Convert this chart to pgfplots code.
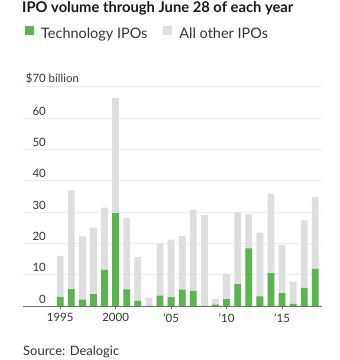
\documentclass[border=0pt]{standalone}
\usepackage{pgfplots}
\pgfplotsset{compat=1.18}
\usepackage{fontspec}
\setmainfont{Lato}
\definecolor{techgreen}{RGB}{92,180,80}
\definecolor{othergray}{RGB}{222,222,225}
\definecolor{gridgray}{RGB}{236,236,236}
\definecolor{txt}{RGB}{51,51,51}
\definecolor{basegray}{RGB}{110,110,110}
\pgfplotstableread{
year tech total
1995 2.9 16.0
1996 5.4 36.9
1997 2.0 22.2
1998 3.8 25.0
1999 11.5 31.4
2000 29.6 66.4
2001 5.3 28.3
2002 1.6 15.6
2003 0.0 2.7
2004 3.3 19.7
2005 2.8 21.2
2006 5.2 22.4
2007 4.8 30.6
2008 0.0 29.0
2009 0.4 2.2
2010 2.2 10.2
2011 7.0 29.9
2012 18.4 29.3
2013 3.1 23.4
2014 10.5 35.8
2015 4.1 19.4
2016 0.7 7.7
2017 5.7 27.3
2018 11.8 34.8
}\ipodata
\begin{document}
\begin{tikzpicture}
\useasboundingbox (0,0) rectangle (340bp,360bp);
\node[anchor=base west, inner sep=0pt, font=\fontsize{14.8}{16}\selectfont\bfseries, text=black!90] at (22bp,347.3bp) {IPO volume through June 28 of each year};
\node[anchor=base west, inner sep=0pt, font=\fontsize{13}{15}\selectfont, text=txt] at (23bp,4.5bp) {Source: Dealogic};
\begin{axis}[
  at={(23bp,54bp)}, anchor=south west,
  scale only axis, width=299bp, height=219.5bp,
  xmin=1991.65, xmax=2018.6, ymin=0, ymax=70,
  axis x line*=bottom, axis y line*=left,
  x axis line style={-, draw=basegray, line width=0.8pt},
  y axis line style={draw=none},
  ymajorgrids, grid style={gridgray, line width=0.7pt},
  ytick={0,10,...,70},
  yticklabels={0,10,20,30,40,50,60,{\$70\rlap{ billion}}},
  xtick={1995,2000,2005,2010,2015},
  xticklabels={1995,2000,’05,’10,’15},
  tick align=outside, major tick length=3bp,
  xtick style={draw=basegray, line width=0.7pt},
  ytick style={draw=none},
  /pgf/number format/assume math mode=true,
  tick label style={font=\fontsize{11.5}{12}\selectfont, text=txt},
  yticklabel style={anchor=south east, inner sep=0pt, xshift=26bp, yshift=2.5bp},
  xticklabel style={yshift=-1bp},
  legend columns=2,
  legend cell align=left,
  legend style={draw=none, fill=none, inner sep=0pt,
    at={(axis description cs:0.0067,1.275)}, anchor=north west,
    font=\fontsize{14.5}{16}\selectfont, text=txt,
    /tikz/every odd column/.append style={column sep=5bp},
    /tikz/every even column/.append style={column sep=14bp}},
  legend image code/.code={\fill[#1] (0bp,-1bp) rectangle (9bp,8bp);},
]
\addlegendimage{fill=techgreen, draw=none}
\addlegendentry{Technology IPOs}
\addlegendimage{fill=othergray, draw=none}
\addlegendentry{All other IPOs}
\addplot[ybar, bar width=6.8bp, bar shift=0pt, fill=othergray, draw=none, forget plot] table[x=year, y=total] {\ipodata};
\addplot[ybar, bar width=6.8bp, bar shift=0pt, fill=techgreen, draw=none, forget plot] table[x=year, y=tech] {\ipodata};
\end{axis}
\end{tikzpicture}
\end{document}
